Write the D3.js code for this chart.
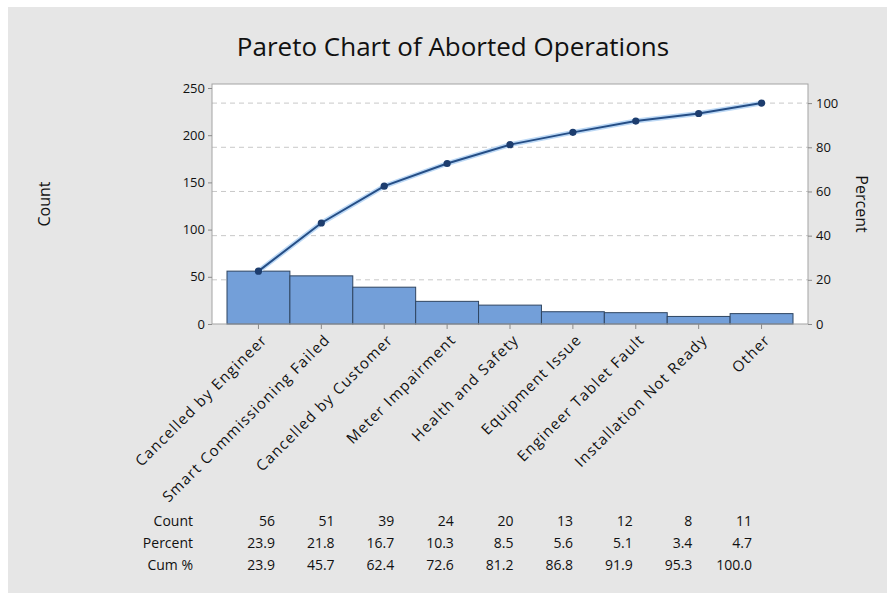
<!DOCTYPE html>
<html>
<head>
<meta charset="utf-8">
<script src="https://cdn.jsdelivr.net/npm/d3@7"></script>
<style>
  body { margin: 0; background: #fff; }
  svg { display: block; font-family: "Open Sans", "Noto Sans", sans-serif; }
</style>
</head>
<body>
<div class="chartArea"></div>
<script>
const categories = ["Cancelled by Engineer", "Smart Commissioning Failed", "Cancelled by Customer",
  "Meter Impairment", "Health and Safety", "Equipment Issue", "Engineer Tablet Fault",
  "Installation Not Ready", "Other"];
const counts = [56, 51, 39, 24, 20, 13, 12, 8, 11];
const percents = ["23.9", "21.8", "16.7", "10.3", "8.5", "5.6", "5.1", "3.4", "4.7"];
const cumPercents = ["23.9", "45.7", "62.4", "72.6", "81.2", "86.8", "91.9", "95.3", "100.0"];
const countTicks = [0, 50, 100, 150, 200, 250];
const percentTicks = [0, 20, 40, 60, 80, 100];

const width = 892;
const height = 597;
const plotL = 212, plotR = 808, plotT = 84, plotB = 324;
const font = "'Open Sans', 'Noto Sans', sans-serif";

const total = d3.sum(counts);
let running = 0;
const cumCounts = counts.map(c => (running += c));

const svg = d3.select(".chartArea")
  .append("svg")
  .attr("width", width)
  .attr("height", height);

// grey panel
svg.append("rect")
  .attr("x", 8).attr("y", 7)
  .attr("width", 879).attr("height", 586)
  .attr("fill", "#e6e6e6");

const xScale = d3.scaleBand()
  .domain(categories)
  .range([227, 793])
  .padding(0);

const yScale = d3.scaleLinear()
  .domain([0, 250])
  .range([plotB, 88]);

const pScale = d3.scaleLinear()
  .domain([0, 100])
  .range([plotB, yScale(total)]);

// plot background
svg.append("rect")
  .attr("x", plotL).attr("y", plotT)
  .attr("width", plotR - plotL).attr("height", plotB - plotT)
  .attr("fill", "#fff");

// dashed gridlines at percent ticks
svg.append("g")
  .selectAll("line")
  .data(percentTicks.filter(d => d > 0))
  .enter()
  .append("line")
  .attr("x1", plotL).attr("x2", plotR)
  .attr("y1", d => pScale(d)).attr("y2", d => pScale(d))
  .attr("stroke", "#c8c8c8")
  .attr("stroke-dasharray", "5,4");

// bars
svg.selectAll(".bar")
  .data(categories)
  .enter()
  .append("rect")
  .attr("class", "bar")
  .attr("x", d => xScale(d))
  .attr("y", (d, i) => yScale(counts[i]))
  .attr("width", xScale.bandwidth())
  .attr("height", (d, i) => plotB - yScale(counts[i]))
  .attr("fill", "#739fd9")
  .attr("stroke", "#2f4561")
  .attr("stroke-width", 1);

// cumulative line
const line = d3.line()
  .x((d, i) => xScale(categories[i]) + xScale.bandwidth() / 2)
  .y(d => yScale(d));

svg.append("path")
  .datum(cumCounts)
  .attr("d", line)
  .attr("fill", "none")
  .attr("stroke", "#bcd8f5")
  .attr("stroke-width", 5);

svg.append("path")
  .datum(cumCounts)
  .attr("d", line)
  .attr("fill", "none")
  .attr("stroke", "#254e86")
  .attr("stroke-width", 2);

svg.selectAll(".pt")
  .data(cumCounts)
  .enter()
  .append("circle")
  .attr("class", "pt")
  .attr("cx", (d, i) => xScale(categories[i]) + xScale.bandwidth() / 2)
  .attr("cy", d => yScale(d))
  .attr("r", 3.6)
  .attr("fill", "#1d3d6e");

// frame
svg.append("rect")
  .attr("x", plotL).attr("y", plotT)
  .attr("width", plotR - plotL).attr("height", plotB - plotT)
  .attr("fill", "none")
  .attr("stroke", "#a3a3a3");

// axes
const yAxis = d3.axisLeft(yScale).tickValues(countTicks).tickSize(4).tickPadding(3);
const gy = svg.append("g")
  .attr("transform", `translate(${plotL},0)`)
  .call(yAxis);

const pAxis = d3.axisRight(pScale).tickValues(percentTicks).tickSize(4).tickPadding(4);
const gp = svg.append("g")
  .attr("transform", `translate(${plotR},0)`)
  .call(pAxis);

const xAxis = d3.axisBottom(xScale).tickSize(5).tickSizeOuter(0);
const gx = svg.append("g")
  .attr("transform", `translate(0,${plotB})`)
  .call(xAxis);

[gy, gp, gx].forEach(g => {
  g.attr("font-family", font);
  g.select(".domain").remove();
  g.selectAll(".tick line").attr("stroke", "#8a8a8a");
  g.selectAll("text")
    .attr("fill", "#111")
    .style("font-size", "13px");
});

gx.selectAll("text")
  .style("font-size", "15px")
  .style("letter-spacing", "1.2px")
  .attr("text-anchor", "end")
  .attr("dy", "0.35em")
  .attr("transform", "translate(6,13) rotate(-45)")
  .attr("y", 0)
  .attr("x", 0);

// title and axis labels
svg.append("text")
  .attr("x", 453).attr("y", 56)
  .attr("text-anchor", "middle")
  .style("font-size", "26px")
  .attr("fill", "#111")
  .text("Pareto Chart of Aborted Operations");

svg.append("text")
  .attr("transform", `translate(50,${(plotT + plotB) / 2}) rotate(-90)`)
  .attr("text-anchor", "middle")
  .style("font-size", "16px")
  .attr("fill", "#111")
  .text("Count");

svg.append("text")
  .attr("transform", `translate(856,${(plotT + plotB) / 2}) rotate(90)`)
  .attr("text-anchor", "middle")
  .style("font-size", "16px")
  .attr("fill", "#111")
  .text("Percent");

// table beneath
const tableX = d3.scalePoint()
  .domain(categories)
  .range([275, 752]);

const rows = [
  { label: "Count", values: counts.map(String), y: 526 },
  { label: "Percent", values: percents, y: 548 },
  { label: "Cum %", values: cumPercents, y: 570 }
];

rows.forEach(row => {
  svg.append("text")
    .attr("x", 193).attr("y", row.y)
    .attr("text-anchor", "end")
    .style("font-size", "14px")
    .attr("fill", "#111")
    .text(row.label);

  svg.append("g")
    .selectAll("text")
    .data(row.values)
    .enter()
    .append("text")
    .attr("x", (d, i) => tableX(categories[i]))
    .attr("y", row.y)
    .attr("text-anchor", "end")
    .style("font-size", "14px")
    .attr("fill", "#111")
    .text(d => d);
});
</script>
</body>
</html>
